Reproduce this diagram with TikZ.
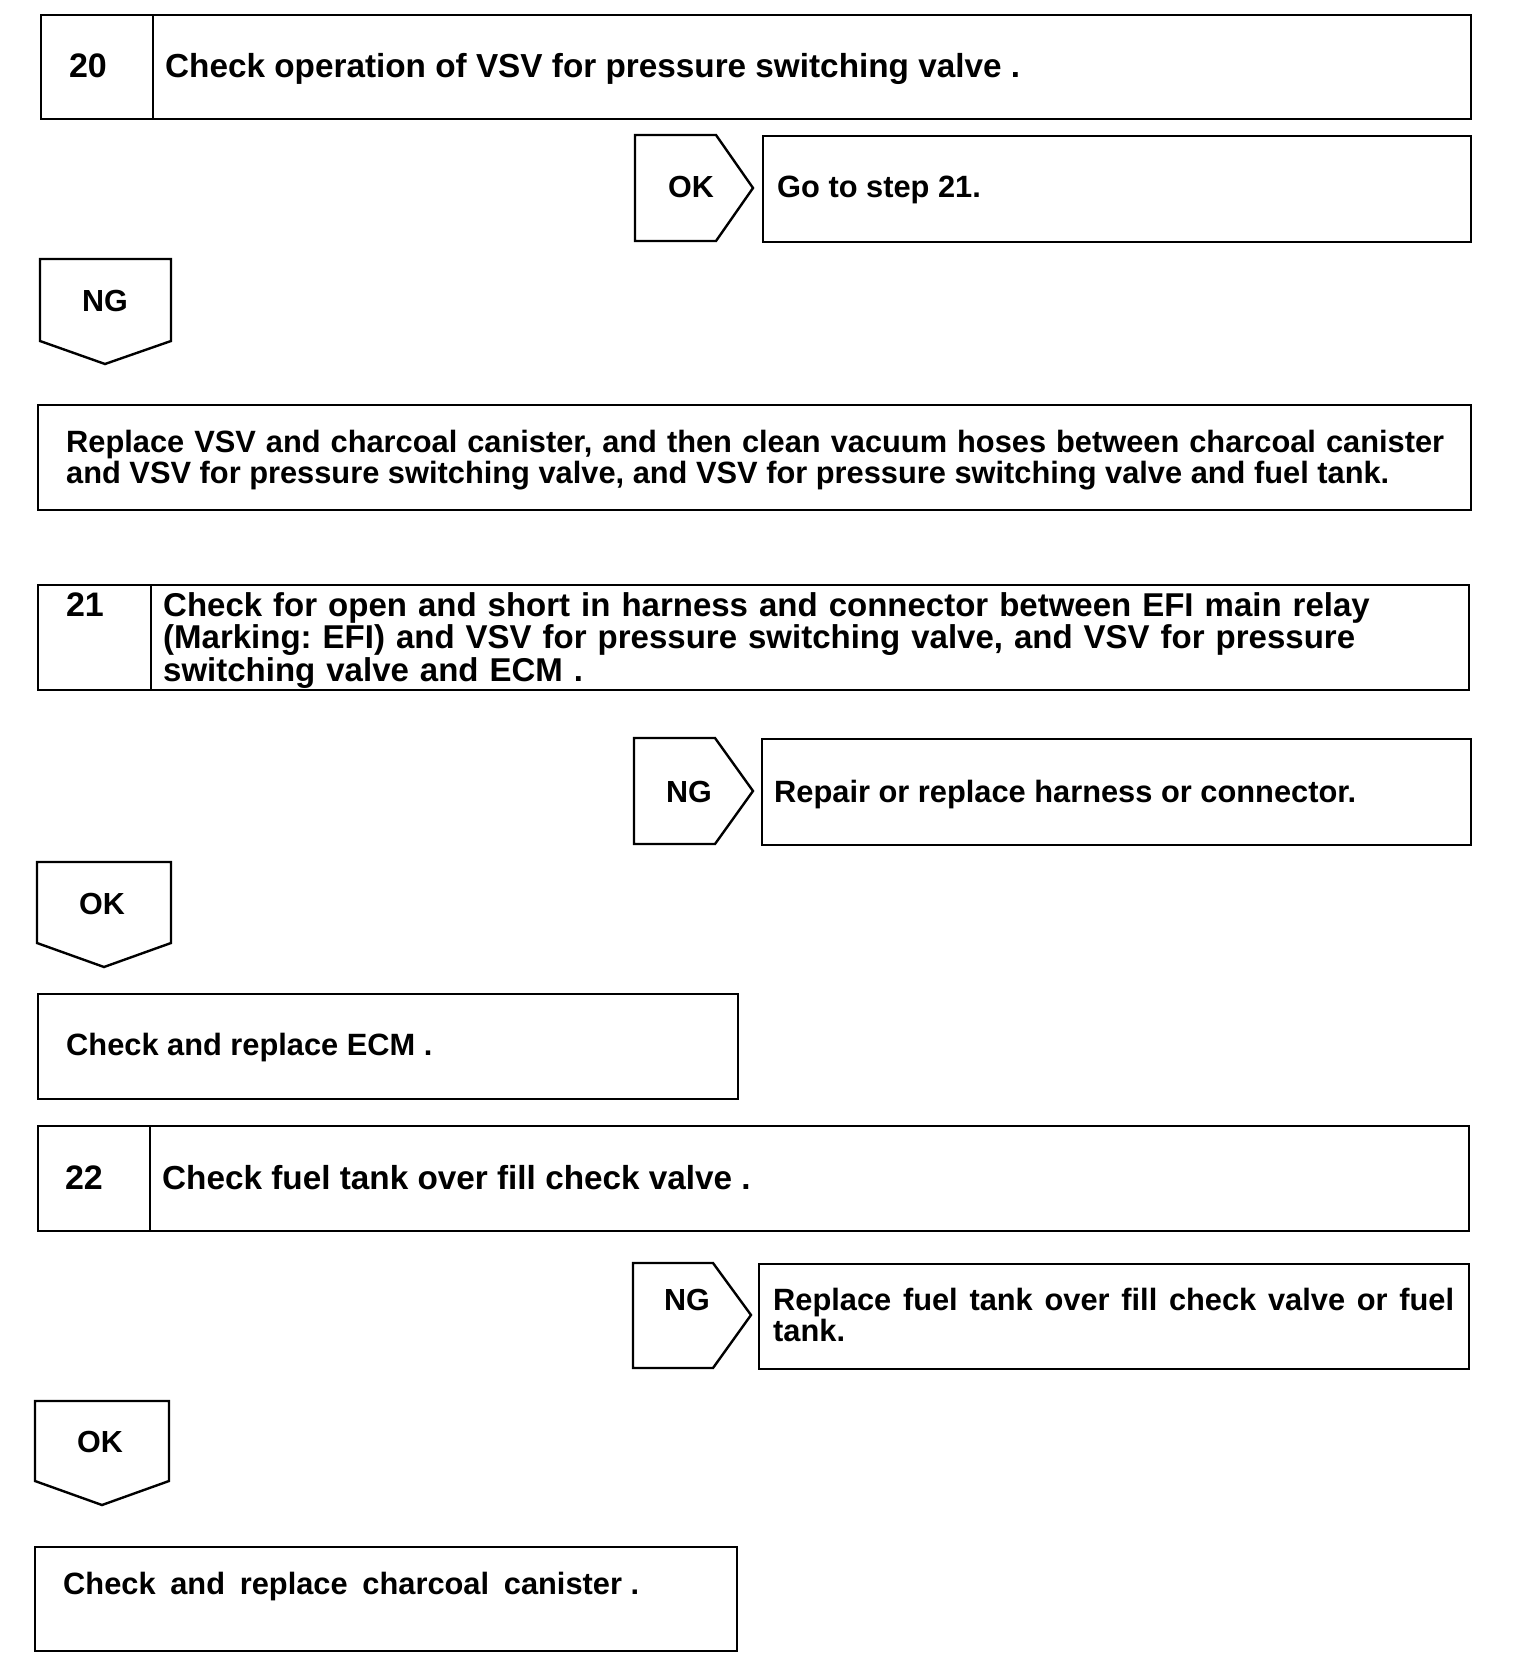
\documentclass[tikz,border=0pt]{standalone}
\usepackage{fontspec}
\setmainfont{Liberation Sans}
\frenchspacing
\tikzset{
  frame/.style={draw, line width=2.4pt, anchor=north west, inner sep=0pt},
  flag/.style={draw, line width=2.4pt, line join=miter},
  txt/.style={anchor=base west, inner sep=0pt, font=\bfseries\fontsize{30.8}{31}\selectfont},
  head/.style={anchor=base west, inner sep=0pt, font=\bfseries\fontsize{33.3}{32.7}\selectfont},
  num/.style={anchor=base, inner sep=0pt, font=\bfseries\fontsize{34}{34}\selectfont},
  lbl/.style={anchor=base, inner sep=0pt, font=\bfseries\fontsize{30.5}{31}\selectfont},
}
\begin{document}
\begin{tikzpicture}[x=1pt,y=-1pt]
	  \useasboundingbox (0,0) rectangle (1520,1680);

	  % step 20
	  \node[frame, minimum width=112, minimum height=104] (b20) at (40,14) {};
	  \node[frame, minimum width=1318, minimum height=104] (b20t) at (152,14) {};
	  \node[num] (n20) at (88,78) {20};
	  \node[head] (t20) at (165,78) {Check operation of VSV for pressure switching valve .};

	  \draw[flag] (635,135) -- (716,135) -- (753,188) -- (716,241) -- (635,241) -- cycle;
	  \node[lbl] (ok1) at (691,198) {OK};
	  \node[frame, minimum width=708, minimum height=106] (bgo) at (762,135) {};
	  \node[txt] (go) at (777,198) {Go to step 21.};

	  \draw[flag] (40,259) -- (171,259) -- (171,341) -- (105,364) -- (40,341) -- cycle;
	  \node[lbl] (ng1) at (105,311) {NG};
	  \node[frame, minimum width=1433, minimum height=105] (brep) at (37,404) {};
	  \node[txt, text width=1378, align=justify] (rep) at (66,452)
	    {Replace VSV and charcoal canister, and then clean vacuum hoses between charcoal canister\linebreak
	     and VSV for pressure switching valve, and VSV for pressure switching valve and fuel tank.};

	  % step 21
	  \node[frame, minimum width=113, minimum height=105] (b21) at (37,584) {};
	  \node[frame, minimum width=1318, minimum height=105] (b21t) at (150,584) {};
	  \node[num] (n21) at (85,616) {21};
	  \node[head, font=\bfseries\fontsize{33}{32.7}\selectfont, text width=1300, align=left] (t21) at (163,616)
	    {Check for open and short in harness and connector between EFI main relay\\
	     (Marking: EFI) and VSV for pressure switching valve, and VSV for pressure\\
	     switching valve and ECM .};

	  \draw[flag] (634,738) -- (715,738) -- (753,791) -- (715,844) -- (634,844) -- cycle;
	  \node[lbl] (ng2) at (689,802) {NG};
	  \node[frame, minimum width=709, minimum height=106] (bharn) at (761,738) {};
	  \node[txt] (harn) at (774,802) {Repair or replace harness or connector.};

	  \draw[flag] (37,862) -- (171,862) -- (171,943) -- (104,967) -- (37,943) -- cycle;
	  \node[lbl] (ok2) at (102,914) {OK};
	  \node[frame, minimum width=700, minimum height=105] (becm) at (37,993) {};
	  \node[txt] (ecm) at (66,1055) {Check and replace ECM .};

	  % step 22
	  \node[frame, minimum width=112, minimum height=105] (b22) at (37,1125) {};
	  \node[frame, minimum width=1319, minimum height=105] (b22t) at (149,1125) {};
	  \node[num] (n22) at (84,1189) {22};
	  \node[head] (t22) at (162,1189) {Check fuel tank over fill check valve .};

	  \draw[flag] (633,1263) -- (713,1263) -- (751,1315) -- (713,1368) -- (633,1368) -- cycle;
	  \node[lbl] (ng3) at (687,1310) {NG};
	  \node[frame, minimum width=710, minimum height=105] (bfuel) at (758,1263) {};
	  \node[txt, text width=681, align=justify] (fuel) at (773,1310)
	    {Replace fuel tank over fill check valve or fuel\linebreak tank.};

	  \draw[flag] (35,1401) -- (169,1401) -- (169,1481) -- (102,1505) -- (35,1481) -- cycle;
	  \node[lbl] (ok3) at (100,1452) {OK};
	  \node[frame, minimum width=702, minimum height=104] (bcan) at (34,1546) {};
	  \node[txt] (can) at (63,1594) {\makebox[576pt][s]{Check and replace charcoal \mbox{canister .}}};
	\end{tikzpicture}
\end{document}
